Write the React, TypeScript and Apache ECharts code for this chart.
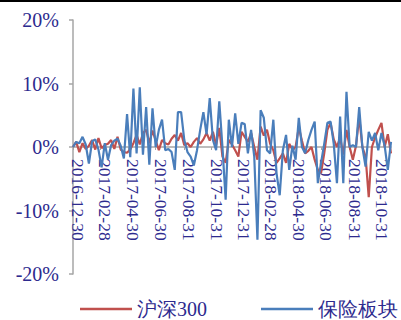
import React, { useEffect, useRef } from "react";
import * as echarts from "echarts";

// Weekly returns (%), one value per Friday starting 2016-12-30
const startDate = "2016-12-30";
const endDate = "2018-11-30";

const hs300 = [
  0.0, 0.8, -0.8, 0.6, -0.3, 0.2, 1.1, -0.4, 1.4, -0.2,
  0.3, 0.5, 1.1, -0.3, 1.6, -0.4, -0.8, -0.9, -0.4, 0.6,
  1.9, 0.4, 2.2, 2.7, 0.6, 2.6, 1.0, -0.5, 1.1, 0.6,
  0.4, 1.3, 1.9, 1.0, 2.2, 0.3, 0.6, 0.0, 0.8, 1.4,
  0.5, 1.2, 2.2, 1.0, 2.4, 0.3, 3.0, -1.5, -2.5, 1.1,
  0.4, -0.5, -1.5, 2.4, 1.6, 0.8, 2.2, 0.0, -2.0, 3.2,
  1.8, 2.7, 0.5, -0.5, -2.5, -1.8, -1.0, -2.5, 0.5, -0.4,
  0.0, 3.1, 1.0, -1.0, -0.6, 0.0, -2.0, -3.6, -4.1, -1.0,
  2.7, 3.8, 1.2, 0.0, 1.5, -1.2, 2.7, 0.0, -2.0, 0.2,
  4.8, 0.0, -1.5, -7.9, 0.0, 1.5, 2.7, 3.8, 0.0, 2.0,
  -1.0,
];

const insurance = [
  0.0, 0.8, 0.6, 1.6, 0.4, -2.6, 0.9, 1.2, -0.4, -3.2,
  0.6, -2.0, 0.3, 1.0, 1.3, 0.2, -1.8, 5.2, -1.6, 9.2,
  -1.0, 9.4, -1.2, 6.3, -2.8, 6.1, 0.0, 2.7, 4.3, -0.5,
  -0.3, -0.8, -3.6, 5.5, 5.5, 1.1, -0.8, -1.5, -2.9, -0.5,
  2.7, 5.5, 2.0, 7.7, 1.1, -0.5, 7.2, 0.0, -8.3, 4.3,
  0.0, 5.3, 0.5, 3.8, 3.6, -1.0, 2.7, -1.5, -14.6, 5.8,
  4.6, -0.5, -1.0, 4.3, -4.1, -7.6, -0.5, 1.9, -3.6, 0.2,
  -2.0, 4.6, 0.0, -1.0, 1.1, 2.7, 4.0, -5.7, -2.5, 0.5,
  3.8, 4.0, 0.5, -5.7, 4.8, -5.7, 8.7, 0.0, 0.3, 0.0,
  6.3, 0.0, -3.1, 2.4, 1.0, 2.2, -0.5, 2.2, 0.2, -3.6,
  0.8,
];

const xTickLabels = [
  "2016-12-30", "2017-02-28", "2017-04-30", "2017-06-30", "2017-08-31",
  "2017-10-31", "2017-12-31", "2018-02-28", "2018-04-30", "2018-06-30",
  "2018-08-31", "2018-10-31",
];

const yTicks = [-20, -10, 0, 10, 20];

const seriesNames = ["沪深300", "保险板块"];

const DAY = 86400000;
const toTs = (s: string) => {
  const [y, m, d] = s.split("-").map(Number);
  return Date.UTC(y, m - 1, d);
};

const t0 = toTs(startDate);
const weekTs = hs300.map((_, i) => t0 + i * 7 * DAY);
const tickTs = xTickLabels.map(toTs);

const TEXT = "#2D2A8E";
const AXIS = "#A6A6A6";
const SERIF = "Liberation Serif";

const GRID_TOP = 20;
const GRID_BOTTOM = 46;
const PLOT_H = 320 - GRID_TOP - GRID_BOTTOM;
// date axis sits on the 0% line, halfway down the symmetric value range
const ZERO_SHIFT = -PLOT_H / 2;

export default function App() {
  const ref = useRef<HTMLDivElement>(null);

  useEffect(() => {
    if (!ref.current) return;
    const chart = echarts.init(ref.current, undefined, { renderer: "svg" });
    chart.setOption({
      animation: false,
      backgroundColor: "#ffffff",
      grid: {
        left: 73,
        right: 10,
        top: GRID_TOP,
        bottom: GRID_BOTTOM,
        containLabel: false,
        outerBoundsMode: "none",
      },
      legend: {
        left: 80,
        width: 321,
        bottom: 1,
        padding: 0,
        icon: "rect",
        itemWidth: 52,
        itemHeight: 2.5,
        itemGap: 54,
        textStyle: { color: TEXT, fontSize: 20, fontFamily: SERIF },
        data: seriesNames,
      },
      xAxis: {
        type: "value",
        position: "bottom",
        offset: ZERO_SHIFT,
        min: t0,
        max: toTs(endDate),
        splitLine: { show: false },
        axisLine: { onZero: false, lineStyle: { color: AXIS, width: 1.5 } },
        axisTick: { show: true, customValues: tickTs, length: 3, lineStyle: { color: AXIS } },
        axisLabel: {
          customValues: tickTs,
          rotate: -90,
          margin: 12,
          verticalAlign: "bottom",
          lineHeight: 10,
          color: TEXT,
          fontSize: 17.5,
          fontFamily: SERIF,
          formatter: (v: number) => {
            const k = tickTs.indexOf(v);
            return k >= 0 ? xTickLabels[k] : "";
          },
        },
      },
      yAxis: {
        type: "value",
        min: yTicks[0],
        max: yTicks[yTicks.length - 1],
        interval: 10,
        splitLine: { show: false },
        axisLine: { show: true, lineStyle: { color: AXIS, width: 1.5 } },
        axisTick: { show: true, length: 4, lineStyle: { color: AXIS, width: 1.5 } },
        axisLabel: {
          margin: 14,
          color: TEXT,
          fontSize: 20,
          fontFamily: SERIF,
          formatter: "{value}%",
        },
      },
      graphic: [
        {
          type: "rect",
          left: 0,
          top: 0,
          shape: { width: 401, height: 2 },
          style: { fill: "#000000" },
          z: 100,
        },
      ],
      series: [
        {
          name: seriesNames[0],
          type: "line",
          symbol: "none",
          data: weekTs.map((t, i) => [t, hs300[i]]),
          lineStyle: { color: "#C0504D", width: 2.2 },
          itemStyle: { color: "#C0504D" },
          z: 3,
        },
        {
          name: seriesNames[1],
          type: "line",
          symbol: "none",
          data: weekTs.map((t, i) => [t, insurance[i]]),
          lineStyle: { color: "#4A7EBB", width: 2.2 },
          itemStyle: { color: "#4A7EBB" },
          z: 4,
        },
      ],
    });
    return () => chart.dispose();
  }, []);

  return (
    <div
      ref={ref}
      style={{ position: "fixed", left: 0, top: 0, width: 401, height: 320 }}
    />
  );
}
